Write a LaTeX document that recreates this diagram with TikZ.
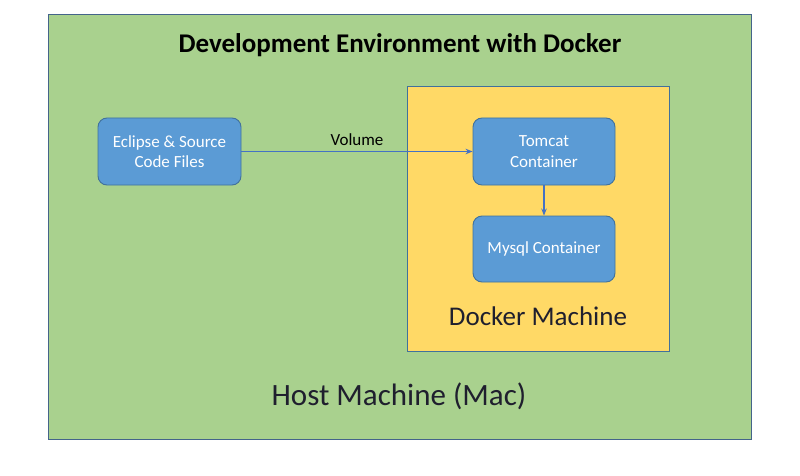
\documentclass[tikz,border=0pt]{standalone}
\usepackage{fontspec}
\setmainfont{Carlito}
\usetikzlibrary{arrows.meta}
\definecolor{hostgreen}{HTML}{A9D18E}
\definecolor{dockeryellow}{HTML}{FFD966}
\definecolor{boxblue}{HTML}{5B9BD5}
\definecolor{boxedge}{HTML}{41719C}
\definecolor{frameedge}{HTML}{44648A}
\definecolor{arrowblue}{HTML}{4472C4}
\definecolor{textdark}{HTML}{1F1F2E}
\tikzset{
  container/.style={draw=boxedge, line width=0.9pt, fill=boxblue, rounded corners=9pt,
    text=white, align=center, font=\fontsize{17}{20.5}\selectfont, inner sep=0pt},
  conn/.style={draw=arrowblue, line width=1.4pt, -{Stealth[length=7pt,width=5.5pt]}}
}
\begin{document}
\begin{tikzpicture}[x=1pt,y=-1pt]
\useasboundingbox (0,0) rectangle (800,476);
\fill[white] (0,0) rectangle (800,476);
\draw[frameedge, line width=1pt, fill=hostgreen] (48,15) rectangle (751,439);
\draw[boxedge, line width=1pt, fill=dockeryellow] (407,87) rectangle (669,351);
\node[font=\fontsize{27}{32}\selectfont\bfseries, text=black] (title) at (400,45) {Development Environment with Docker};
\node[container, minimum width=143pt, minimum height=67pt] (eclipse) at (169.5,151.5) {Eclipse \& Source\\Code Files};
\node[container, minimum width=142pt, minimum height=67pt] (tomcat) at (544,151.5) {Tomcat\\Container};
\node[container, minimum width=142pt, minimum height=66pt] (mysql) at (544,249) {Mysql Container};
\node[font=\fontsize{27}{32}\selectfont, text=textdark] (docker) at (538,316) {Docker Machine};
\node[font=\fontsize{31}{36}\selectfont, text=textdark] (host) at (399,396) {Host Machine (Mac)};
\draw[conn] (eclipse.east) -- node[above, text=black, font=\fontsize{17}{20}\selectfont, inner sep=5pt] (vol) {Volume} (tomcat.west);
\draw[conn] (tomcat.south) -- (mysql.north);
\end{tikzpicture}
\end{document}
